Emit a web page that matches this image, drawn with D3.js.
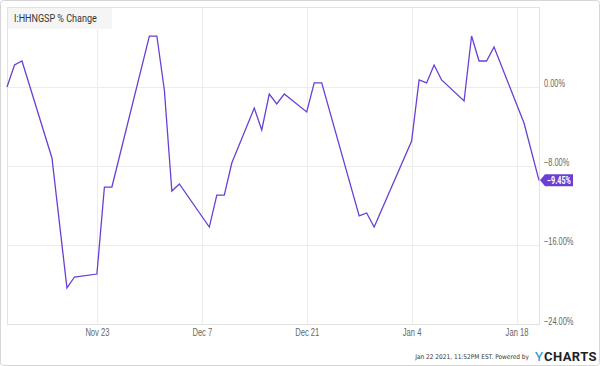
<!DOCTYPE html>
<html>
<head>
<meta charset="utf-8">
<script src="https://cdn.jsdelivr.net/npm/d3@7"></script>
<style>
  body { margin: 0; background: #fff; }
  svg { display: block; font-family: Roboto, "Noto Sans", sans-serif; }
</style>
</head>
<body>
<div class="canvas"></div>
<script>
// data: % perubahan harga spot Henry Hub
const dates = ['2020-11-11','2020-11-12','2020-11-13','2020-11-17','2020-11-19','2020-11-20',
  '2020-11-23','2020-11-24','2020-11-25','2020-11-30','2020-12-01','2020-12-02','2020-12-03',
  '2020-12-04','2020-12-08','2020-12-09','2020-12-10','2020-12-11','2020-12-14','2020-12-15',
  '2020-12-16','2020-12-17','2020-12-18','2020-12-21','2020-12-22','2020-12-23','2020-12-28',
  '2020-12-29','2020-12-30','2021-01-04','2021-01-05','2021-01-06','2021-01-07','2021-01-08',
  '2021-01-11','2021-01-12','2021-01-13','2021-01-14','2021-01-15','2021-01-19','2021-01-21'];
const values = [0.00, 2.23, 2.63, -7.19, -20.35, -19.24,
  -18.94, -10.13, -10.13, 5.16, 5.16, -0.30, -10.53,
  -9.82, -14.18, -10.94, -10.94, -7.70, -2.13, -4.35,
  -0.71, -1.72, -0.71, -2.53, 0.41, 0.41, -13.06,
  -12.76, -14.18, -5.47, 0.71, 0.41, 2.23, 0.71,
  -1.42, 5.16, 2.63, 2.63, 4.05, -3.65, -9.45];
const xTicks = ['2020-11-23','2020-12-07','2020-12-21','2021-01-04','2021-01-18'];
const yTicks = [0, -8, -16, -24];
const title = 'I:HHNGSP % Change';
const footer = 'Jan 22 2021, 11:52PM EST.  Powered by';

const parse = d3.timeParse('%Y-%m-%d');
const data = dates.map((d, i) => ({ date: parse(d), value: values[i] }));

// dimensi
const dims = { width: 600, height: 366 };
const plot = { left: 7, right: 539, top: 7, bottom: 324 };
const purple = '#6a3fd4';
const narrow = '"Liberation Sans Narrow", "DejaVu Sans Condensed", Roboto, sans-serif';

// font di gambar asli lebih sempit (condensed), jadi teks dipadatkan
const condense = (sel, f) => sel.each(function () {
  const w = this.getComputedTextLength();
  d3.select(this).attr('textLength', w * f).attr('lengthAdjust', 'spacingAndGlyphs');
});

const svg = d3.select('.canvas')
  .append('svg')
  .attr('width', dims.width)
  .attr('height', dims.height);

// bingkai luar
svg.append('rect')
  .attr('x', 0.5).attr('y', 0.5)
  .attr('width', dims.width - 1).attr('height', dims.height - 1)
  .attr('rx', 3)
  .attr('fill', '#fff')
  .attr('stroke', '#d6d6d6');

const x = d3.scaleTime()
  .domain([parse('2020-11-11'), parse('2021-01-21')])
  .range([plot.left, plot.right]);

const y = d3.scaleLinear()
  .domain([-24, 8.1])
  .range([plot.bottom, plot.top]);

// grid horizontal
svg.append('g')
  .selectAll('line')
  .data(yTicks)
  .enter().append('line')
  .attr('x1', plot.left).attr('x2', plot.right)
  .attr('y1', d => Math.round(y(d)) + 0.5).attr('y2', d => Math.round(y(d)) + 0.5)
  .attr('stroke', '#ececec');

// grid vertikal
svg.append('g')
  .selectAll('line')
  .data(xTicks.map(parse))
  .enter().append('line')
  .attr('x1', d => Math.round(x(d)) + 0.5).attr('x2', d => Math.round(x(d)) + 0.5)
  .attr('y1', plot.top).attr('y2', plot.bottom)
  .attr('stroke', '#ececec');

// kotak plot
svg.append('rect')
  .attr('x', plot.left + 0.5).attr('y', plot.top + 0.5)
  .attr('width', plot.right - plot.left).attr('height', plot.bottom - plot.top)
  .attr('fill', 'none')
  .attr('stroke', '#e2e2e2');

// sumbu x
const xAxis = d3.axisBottom(x)
  .tickValues(xTicks.map(parse))
  .tickFormat(d3.timeFormat('%b %-d'))
  .tickSize(0)
  .tickPadding(5);

svg.append('g')
  .attr('transform', `translate(0, ${plot.bottom})`)
  .call(xAxis)
  .call(g => g.select('.domain').remove())
  .selectAll('text')
  .attr('fill', '#666')
  .style('font-size', '10px')
  .call(condense, 0.76);

// sumbu y (kanan)
const yAxis = d3.axisRight(y)
  .tickValues(yTicks)
  .tickFormat(d => d3.format('.2f')(d) + '%')
  .tickSize(0)
  .tickPadding(5);

svg.append('g')
  .attr('transform', `translate(${plot.right}, 0)`)
  .call(yAxis)
  .call(g => g.select('.domain').remove())
  .selectAll('text')
  .attr('fill', '#666')
  .attr('dy', '0.0em')
  .style('font-size', '10px')
  .call(condense, 0.74);

// garis
const line = d3.line()
  .x(d => x(d.date))
  .y(d => y(d.value));

svg.append('path')
  .datum(data)
  .attr('d', line)
  .attr('fill', 'none')
  .attr('stroke', purple)
  .attr('stroke-width', 1.3)
  .attr('stroke-linejoin', 'miter');

// judul
svg.append('rect')
  .attr('x', plot.left + 1).attr('y', plot.top + 1)
  .attr('width', 104).attr('height', 21)
  .attr('fill', '#f5f5f5');

svg.append('text')
  .attr('x', 14).attr('y', 22)
  .attr('fill', '#333')
  .style('font-size', '11px')
  .text(title)
  .call(condense, 0.82);

// label nilai terakhir
const last = data[data.length - 1];
const lx = x(last.date), ly = y(last.value);
svg.append('path')
  .attr('d', `M${lx + 1},${ly} L${lx + 6},${ly - 6} L${lx + 34},${ly - 6} L${lx + 34},${ly + 6} L${lx + 6},${ly + 6} Z`)
  .attr('fill', purple);

svg.append('text')
  .attr('x', lx + 20).attr('y', ly + 3.5)
  .attr('text-anchor', 'middle')
  .attr('fill', '#fff')
  .style('font-size', '10px')
  .style('font-weight', 'bold')
  .text(d3.format('.2f')(last.value) + '%')
  .call(condense, 0.72);

// footer: font sempit, ukuran dikecilkan sampai muat 114px
const foot = svg.append('text')
  .attr('x', 529).attr('y', 359)
  .attr('text-anchor', 'end')
  .attr('fill', '#333')
  .style('font-family', narrow)
  .text(footer);
let fs = 10;
foot.style('font-size', fs + 'px');
while (foot.node().getComputedTextLength() > 114 && fs > 6) {
  fs -= 0.25;
  foot.style('font-size', fs + 'px');
}

// logo YCHARTS
const logoY = svg.append('text')
  .attr('x', 535).attr('y', 361)
  .attr('fill', '#1a8cd8')
  .style('font-size', '13.5px')
  .text('Y');
const yW = logoY.node().getComputedTextLength();
svg.append('text')
  .attr('x', 535 + yW + 1).attr('y', 361)
  .attr('fill', '#1f1f1f')
  .style('font-size', '13px')
  .style('font-weight', 'bold')
  .style('letter-spacing', '0.4px')
  .text('CHARTS');
</script>
</body>
</html>
